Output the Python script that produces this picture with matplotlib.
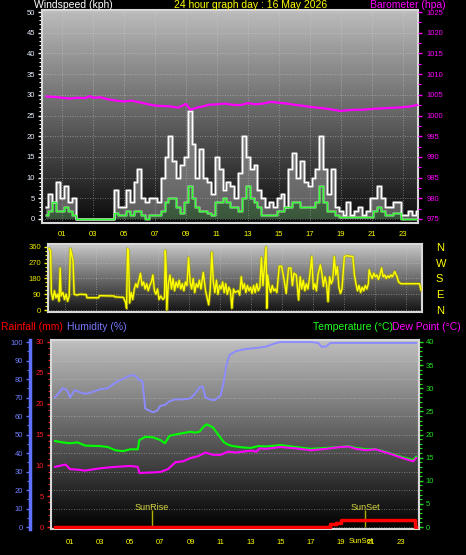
import numpy as np
import matplotlib
matplotlib.use('Agg')
import matplotlib.pyplot as plt
from matplotlib.ticker import MultipleLocator
from matplotlib.colors import LinearSegmentedColormap

plt.rcParams['font.family'] = ['Liberation Sans', 'DejaVu Sans']

# ---------------- data ----------------
title_text = '24 hour graph day : 16 May 2026'
hour_ticks = [1, 3, 5, 7, 9, 11, 13, 15, 17, 19, 21, 23]
hour_labels = ['01', '03', '05', '07', '09', '11', '13', '15', '17', '19', '21', '23']

wind_hours = np.arange(0, 24.01, 0.25)
wind_gust = [3, 6, 4, 9, 5, 8, 4, 5, 0, 0, 0, 0, 0, 0, 0, 0,
             0, 0, 7, 3, 3, 7, 4, 9, 12, 5, 4, 5, 5, 4, 10, 15,
             20, 14, 10, 13, 15, 26, 18, 10, 17, 10, 9, 6, 15, 12, 7, 9,
             8, 5, 11, 20, 15, 12, 13, 7, 5, 3, 4, 3, 5, 6, 3, 12,
             16, 10, 14, 9, 8, 10, 12, 20, 12, 6, 12, 3, 2, 1, 4, 1,
             2, 3, 1, 2, 5, 5, 8, 5, 3, 3, 4, 4, 1, 1, 2, 1, 2]
wind_avg = [1, 2, 4, 2, 2, 3, 2, 1, 0, 0, 0, 0, 0, 0, 0, 0,
            0, 0, 1.5, 1, 1, 2, 1, 2, 2, 1, 0, 1, 1, 1, 2, 4,
            5, 5, 3, 1.5, 4, 8, 5, 3, 2, 2, 1.5, 1, 4, 4, 5, 4,
            3, 3, 2, 5, 8, 5, 4, 3, 1, 1, 1, 1, 2, 2, 3, 3,
            4, 4, 3, 3, 3, 3, 4, 8, 4, 2, 2, 1, 0.5, 0.5, 0.5, 0.5,
            0.5, 0.5, 0.5, 0.5, 0.5, 2, 3, 2, 1, 1, 1.5, 1.5, 0, 0, 0, 0, 0]

baro_hours = [0, 0.5, 1, 1.5, 2, 2.5, 2.8, 3, 3.5, 4, 4.5, 5, 5.5, 6, 6.5, 7, 7.5, 8, 8.5,
              9, 9.3, 9.7, 10, 10.5, 11, 11.5, 12, 12.5, 13, 13.5, 14, 14.5, 15, 15.5, 16,
              16.5, 17, 17.5, 18, 18.5, 19, 19.5, 20, 20.5, 21, 21.5, 22, 22.5, 23, 23.5, 24]
baro_hpa = [1004.6, 1004.5, 1004.3, 1004.1, 1004.3, 1004.2, 1004.7, 1004.3, 1004.4, 1003.9,
            1003.6, 1003.4, 1003.6, 1003.2, 1002.8, 1002.4, 1002.3, 1002.2, 1001.9,
            1002.8, 1001.4, 1001.9, 1002.1, 1002.6, 1002.7, 1002.9, 1002.6, 1002.5, 1003.0,
            1002.7, 1002.9, 1003.3, 1003.1, 1002.9, 1002.6, 1002.4, 1002.1, 1001.9, 1001.7,
            1001.4, 1001.1, 1001.3, 1001.4, 1001.4, 1001.6, 1001.7, 1001.8, 1001.9, 1002.0,
            1002.2, 1002.6]

dir_hours = [0.0, 0.1, 0.15, 0.25, 0.35, 0.45, 0.55, 0.65, 0.72, 0.78, 0.9, 1.0, 1.1, 1.2, 1.3,
             1.38, 1.45, 1.55, 1.62, 1.8, 2.0, 2.4, 2.45, 3.2, 3.25, 4.2, 4.25, 4.8, 4.95, 5.0,
             5.07, 5.12, 5.2, 5.3, 5.4, 5.5, 5.6, 5.7, 5.8, 5.9, 6.0, 6.1, 6.2, 6.3, 6.4, 6.5,
             6.6, 6.7, 6.8, 6.9, 7.0, 7.1, 7.2, 7.35, 7.45, 7.5, 7.55, 7.6, 7.7, 7.8, 7.9, 8.0,
             8.1, 8.2, 8.3, 8.4, 8.5, 8.6, 8.7, 8.8, 8.9, 9.0, 9.1, 9.2, 9.3, 9.4, 9.5, 9.6,
             9.7, 9.8, 9.95, 10.1, 10.3, 10.4, 10.5, 10.6, 10.7, 10.8, 10.9, 11.0, 11.1, 11.2,
             11.3, 11.4, 11.5, 11.6, 11.7, 11.8, 11.9, 12.0, 12.2, 12.3, 12.4, 12.5, 12.6, 12.7,
             12.8, 12.9, 13.0, 13.1, 13.2, 13.3, 13.4, 13.5, 13.6, 13.7, 13.8, 13.9, 14.0, 14.05,
             14.1, 14.2, 14.3, 14.4, 14.5, 14.6, 14.7, 14.85, 15.0, 15.15, 15.3, 15.45, 15.6,
             15.7, 15.8, 15.95, 16.1, 16.2, 16.3, 16.4, 16.5, 16.6, 16.7, 16.8, 16.95, 17.05,
             17.15, 17.25, 17.35, 17.5, 17.6, 17.7, 17.8, 17.9, 18.0, 18.1, 18.2, 18.3, 18.4,
             18.5, 18.6, 18.7, 18.8, 18.9, 19.05, 19.2, 19.6, 19.7, 19.8, 19.9, 20.0, 20.1, 20.2,
             20.3, 20.4, 20.5, 20.6, 20.65, 20.75, 20.85, 20.95, 21.05, 21.15, 21.25, 21.35,
             21.45, 21.55, 21.65, 21.75, 21.85, 21.95, 22.05, 22.15, 22.3, 22.45, 22.55, 22.7,
             23.9, 24.0]
dir_deg = [350, 340, 100, 60, 110, 70, 90, 50, 240, 80, 100, 60, 90, 50, 80,
           350, 320, 280, 90, 85, 90, 88, 70, 70, 82, 80, 75, 72, 40, 10,
           350, 340, 40, 100, 60, 120, 150, 130, 170, 210, 140, 160, 120, 150, 110, 140,
           160, 200, 110, 90, 120, 60, 80, 60, 70, 340, 250, 0, 150, 200, 120, 180,
           110, 160, 130, 170, 120, 150, 110, 160, 140, 300, 160, 120, 180, 100, 150, 130,
           170, 120, 215, 110, 30, 120, 330, 160, 100, 170, 90, 140, 120, 160,
           100, 150, 90, 130, 110, 10, 120, 100, 110, 85, 190, 120, 150, 100,
           140, 110, 130, 95, 140, 100, 150, 110, 130, 300, 140, 250, 360, 10,
           200, 130, 100, 140, 110, 120, 100, 250, 250, 180, 95, 240, 240,
           140, 210, 200, 57, 190, 120, 170, 110, 150, 120, 180, 305, 120,
           150, 110, 200, 258, 210, 135, 190, 150, 48, 190, 150, 170, 305,
           200, 248, 130, 95, 120, 305, 310, 305, 200, 150, 110, 140, 100, 130,
           110, 140, 120, 150, 230, 200, 180, 210, 190, 200, 175, 200,
           240, 190, 200, 180, 195, 185, 200, 190, 220, 190, 160, 150,
           150, 114]
compass = ['N', 'E', 'S', 'W', 'N']

hum_hours = [0, 0.5, 0.8, 1.0, 1.3, 1.6, 2.0, 2.5, 3.0, 3.5, 4.0, 4.5, 5.0, 5.3, 5.6, 5.8, 6.0,
             6.5, 6.8, 7.0, 7.3, 7.6, 8.0, 8.5, 9.0, 9.3, 9.6, 9.8, 10.0, 10.3, 10.6, 11.0,
             11.2, 11.4, 11.6, 12.0, 12.5, 13.0, 13.6, 14.0, 14.7, 15.0, 16.0, 17.0, 17.5,
             17.7, 18.0, 18.3, 19, 20, 21, 22, 23, 24]
hum_pct = [70, 75, 74, 70, 74, 73, 72, 73, 74.5, 75, 78, 80, 82, 82, 79.5, 79, 64,
           62, 63, 65.5, 66, 68, 69, 69, 69.5, 72, 75.5, 76, 70, 69, 68.5, 71,
           78, 88, 93, 95, 96, 96.5, 97, 97.5, 99.5, 100, 100, 100, 99.5,
           97.5, 97.5, 99.5, 99.5, 99.5, 99.5, 99.5, 99.5, 99.5]

temp_hours = [0, 0.5, 1.0, 1.5, 2.0, 3.0, 3.5, 4.0, 4.5, 5.0, 5.5, 5.6, 6.0, 6.5, 7.0, 7.3, 7.6,
              8.0, 8.5, 9.0, 9.3, 9.6, 9.9, 10.1, 10.5, 10.7, 11.0, 11.2, 11.5, 11.8, 12.5,
              13.0, 13.5, 14.0, 15.0, 16.0, 17.0, 18.0, 19.0, 19.5, 20.0, 20.7, 21.3, 21.8,
              22.3, 23.1, 23.8, 24.0]
temp_c = [18.6, 18.3, 18.1, 18.3, 17.6, 17.5, 17.3, 16.6, 16.4, 16.8, 16.8, 18.8, 19.5, 19.4,
          18.8, 18.1, 19.7, 20.0, 20.3, 20.6, 20.4, 20.6, 21.8, 22.2, 21.5, 20.6, 19.3, 18.4,
          17.8, 17.5, 17.2, 17.1, 17.5, 17.4, 17.7, 17.3, 16.9, 17.1, 17.3, 17.5, 17.1, 16.8,
          16.8, 16.4, 15.9, 15.1, 14.5, 15.2]

dew_hours = [0, 0.4, 0.7, 1.0, 1.5, 2.0, 3.0, 4.0, 5.0, 5.5, 5.6, 6.5, 7.0, 7.5, 8.0, 8.5, 9.0,
             9.5, 10.0, 10.5, 11.0, 11.5, 12.0, 13.0, 13.4, 13.6, 14.0, 15.0, 16.0, 17.0, 18.0,
             19.0, 19.5, 20.0, 20.7, 21.3, 21.8, 22.3, 23.1, 23.8, 24.0]
dew_c = [13.0, 13.3, 13.5, 12.5, 12.4, 12.2, 12.7, 13.0, 13.2, 13.0, 11.7, 11.8, 11.9, 12.5,
         14.0, 14.2, 14.9, 15.3, 16.1, 15.6, 15.6, 16.3, 16.1, 16.5, 16.3, 17.0, 16.9, 17.3,
         17.0, 16.6, 16.9, 17.3, 17.4, 16.9, 16.6, 16.8, 16.3, 15.8, 14.9, 14.2, 14.9]

rain_hours = [0, 18.25, 18.7, 19.0, 23.9, 24.0]
rain_mm = [0, 0.44, 0.7, 1.1, 0, 0]

sunrise_h = 6.42
sunset_h = 20.6

# ---------------- figure ----------------
W, H = 466, 555
fig = plt.figure(figsize=(W / 100, H / 100), dpi=100, facecolor='black')


def px_axes(x0, y0, x1, y1):
    return fig.add_axes([x0 / W, 1 - y1 / H, (x1 - x0) / W, (y1 - y0) / H])


def gradient(ax, top, bot):
    cmap = LinearSegmentedColormap.from_list('g', [bot, top])
    ax.imshow(np.linspace(1, 0, 256)[:, None], aspect='auto', cmap=cmap,
              extent=(0, 1, 0, 1), transform=ax.transAxes, zorder=0)


GRID = dict(color='#d8d8d8', ls=(0, (1, 2)), lw=0.6, alpha=0.55)
TICKFS = 5.5
YEL = '#ffff00'

# ---- wind speed / barometer ----
ax_w = px_axes(42, 10, 418, 223)
gradient(ax_w, '#bcbcbc', '#0a0a0a')
ax_w.fill_between(wind_hours, wind_avg, wind_gust, step='mid', color='#bdbdbd', alpha=0.45,
                  lw=0, zorder=2)
ax_w.plot(wind_hours, wind_gust, color='#cfcfcf', lw=2.0, alpha=0.7, drawstyle='steps-mid', zorder=3)
ax_w.plot(wind_hours, wind_gust, color='white', lw=0.8, drawstyle='steps-mid', zorder=4)
ax_w.fill_between(wind_hours, 0, wind_avg, step='mid', color='#90e090', alpha=0.35,
                  lw=0, zorder=4.5)
ax_w.plot(wind_hours, wind_avg, color='#b0ffb0', lw=2.0, alpha=0.5, drawstyle='steps-mid', zorder=5)
ax_w.plot(wind_hours, wind_avg, color='#30ff30', lw=0.8, drawstyle='steps-mid', zorder=6)
ax_w.set_xlim(-0.29, 24.0)
ax_w.set_ylim(-0.97, 50.5)
ax_w.set_xticks(hour_ticks)
ax_w.set_xticklabels(hour_labels)
ax_w.yaxis.set_major_locator(MultipleLocator(5))
ax_w.yaxis.set_minor_locator(MultipleLocator(1))
ax_w.tick_params(axis='x', length=0, pad=6, labelsize=TICKFS, labelcolor=YEL)
ax_w.tick_params(axis='y', which='major', length=3, width=1, color='white', labelsize=TICKFS,
                 labelcolor='#e8f0ff', pad=2)
ax_w.tick_params(axis='y', which='minor', length=2, width=0.8, color='white')
ax_w.grid(True, **GRID)
for s in ax_w.spines.values():
    s.set_color('#d8d8d8')
    s.set_linewidth(1.5)

ax_b = ax_w.twinx()
ax_b.plot(baro_hours, baro_hpa, color='#ff00ff', lw=1.6, zorder=5)
ax_b.set_ylim(974.03, 1025.5)
ax_b.yaxis.set_major_locator(MultipleLocator(5))
ax_b.yaxis.set_minor_locator(MultipleLocator(2.5))
ax_b.tick_params(axis='y', which='major', length=3, width=1, color='#ff00ff', labelsize=TICKFS,
                 labelcolor='#ff00ff', pad=3)
ax_b.tick_params(axis='y', which='minor', length=2, width=0.8, color='#ff00ff')
for s in ax_b.spines.values():
    s.set_visible(False)

fig.text(34 / W, 1 - 5.5 / H, 'Windspeed (kph)', color='white', fontsize=7.5, ha='left', va='center')
fig.text(251 / W, 1 - 5.5 / H, title_text, color=YEL, fontsize=7.5, ha='center', va='center')
fig.text(446 / W, 1 - 5.5 / H, 'Barometer (hpa)', color='#ff00ff', fontsize=7.5, ha='right', va='center')

# ---- wind direction ----
ax_d = px_axes(48, 244, 422, 312)
gradient(ax_d, '#c8c8c8', '#121212')
ax_d.plot(dir_hours, dir_deg, color='#a0a000', lw=2.2, alpha=0.6, zorder=3)
ax_d.plot(dir_hours, dir_deg, color='#ffff00', lw=1.0, zorder=4)
ax_d.set_xlim(-0.065, 24.06)
ax_d.set_ylim(-11.4, 377)
ax_d.set_xticks(hour_ticks)
ax_d.tick_params(axis='x', length=0, labelbottom=False)
ax_d.set_yticks([0, 90, 180, 270, 360])
ax_d.yaxis.set_minor_locator(MultipleLocator(22.5))
ax_d.tick_params(axis='y', which='major', length=3, width=1, color=YEL, labelsize=TICKFS,
                 labelcolor='#e8e800', pad=2)
ax_d.tick_params(axis='y', which='minor', length=2, width=0.8, color=YEL)
ax_d.grid(True, **GRID)
for s in ax_d.spines.values():
    s.set_color('#d8d8d8')
    s.set_linewidth(1.5)

ax_d2 = ax_d.twinx()
ax_d2.set_ylim(-11.4, 377)
ax_d2.set_yticks([0, 90, 180, 270, 360])
ax_d2.set_yticklabels(compass)
ax_d2.tick_params(axis='y', length=0, pad=10, labelsize=8, labelcolor=YEL)
for s in ax_d2.spines.values():
    s.set_visible(False)

# ---- rain / humidity / temperature ----
ax_r = px_axes(51, 340, 419, 529)
gradient(ax_r, '#c0c0c0', '#000000')
ax_r.set_xlim(-0.27, 24.19)
ax_r.set_ylim(-0.32, 30.32)
ax_r.set_xticks(hour_ticks)
ax_r.set_xticklabels(hour_labels)
ax_r.tick_params(axis='x', length=0, pad=7, labelsize=TICKFS, labelcolor=YEL)
ax_r.yaxis.set_major_locator(MultipleLocator(5))
ax_r.yaxis.set_minor_locator(MultipleLocator(1))
ax_r.tick_params(axis='y', which='major', length=3, width=1, color='#ff2020', labelsize=TICKFS,
                 labelcolor='#ff2020', pad=2)
ax_r.tick_params(axis='y', which='minor', length=2, width=0.8, color='#ff2020')
for s in ax_r.spines.values():
    s.set_color('#d8d8d8')
    s.set_linewidth(1.5)

ax_h = ax_r.twinx()
ax_h.set_ylim(-1.08, 101.1)
ax_h.yaxis.set_ticks_position('left')
ax_h.yaxis.set_label_position('left')
ax_h.spines['left'].set_position(('outward', 15))
ax_h.spines['left'].set_visible(True)
ax_h.spines['left'].set_color('#6070ff')
ax_h.spines['left'].set_linewidth(2.5)
for k in ('right', 'top', 'bottom'):
    ax_h.spines[k].set_visible(False)
ax_h.yaxis.set_major_locator(MultipleLocator(10))
ax_h.yaxis.set_minor_locator(MultipleLocator(5))
ax_h.tick_params(axis='y', which='major', length=3, width=1, color='#6070ff', labelsize=TICKFS,
                 labelcolor='#7080ff', pad=2)
ax_h.tick_params(axis='y', which='minor', length=2, width=0.8, color='#6070ff')
ax_h.grid(True, **GRID)
ax_h.xaxis.grid(True, **GRID)
ax_h.plot(hum_hours, hum_pct, color='#8c8cff', lw=1.4, zorder=4)

ax_h.vlines([sunrise_h, sunset_h], 0, 9.2, color='#b0b000', lw=1, zorder=3)
ax_h.text(sunrise_h, 10.8, 'SunRise', color='#d8d840', fontsize=6.5, ha='center', va='center')
ax_h.text(sunset_h, 10.8, 'SunSet', color='#d8d840', fontsize=6.5, ha='center', va='center')

ax_t = ax_r.twinx()
ax_t.set_ylim(-0.43, 40.43)
ax_t.yaxis.set_major_locator(MultipleLocator(5))
ax_t.yaxis.set_minor_locator(MultipleLocator(1))
ax_t.tick_params(axis='y', which='major', length=3, width=1, color='#20e020', labelsize=TICKFS,
                 labelcolor='#20e020', pad=2)
ax_t.tick_params(axis='y', which='minor', length=2, width=0.8, color='#20e020')
for k in ('left', 'top', 'bottom'):
    ax_t.spines[k].set_visible(False)
ax_t.spines['right'].set_color('#d8d8d8')
ax_t.spines['right'].set_linewidth(1.5)
ax_t.plot(temp_hours, temp_c, color='#00ff00', lw=1.5, zorder=4)
ax_t.plot(dew_hours, dew_c, color='#ff00ff', lw=1.5, zorder=5)

ax_r2 = ax_r.twinx()
ax_r2.set_ylim(-0.32, 30.32)
ax_r2.set_yticks([])
for s in ax_r2.spines.values():
    s.set_visible(False)
ax_r2.plot(rain_hours, rain_mm, color='#ff0000', lw=2.5, drawstyle='steps-post', zorder=6)

ax_r.text(sunset_h - 0.25, -0.0635, 'SunSet', transform=ax_r.get_xaxis_transform(), color=YEL,
          fontsize=TICKFS, ha='center', va='center')

fig.text(0.7 / W, 1 - 326.7 / H, 'Rainfall (mm)', color='#ff0000', fontsize=7.5, ha='left', va='center')
fig.text(67 / W, 1 - 326.7 / H, 'Humidity (%)', color='#7878ff', fontsize=7.5, ha='left', va='center')
fig.text(313 / W, 1 - 326.7 / H, 'Temperature (°C)', color='#20ff20', fontsize=7.5, ha='left', va='center')
fig.text(392 / W, 1 - 326.7 / H, 'Dew Point (°C)', color='#ff00ff', fontsize=7.5, ha='left', va='center')

fig.savefig('out.png', dpi=100, facecolor='black')
